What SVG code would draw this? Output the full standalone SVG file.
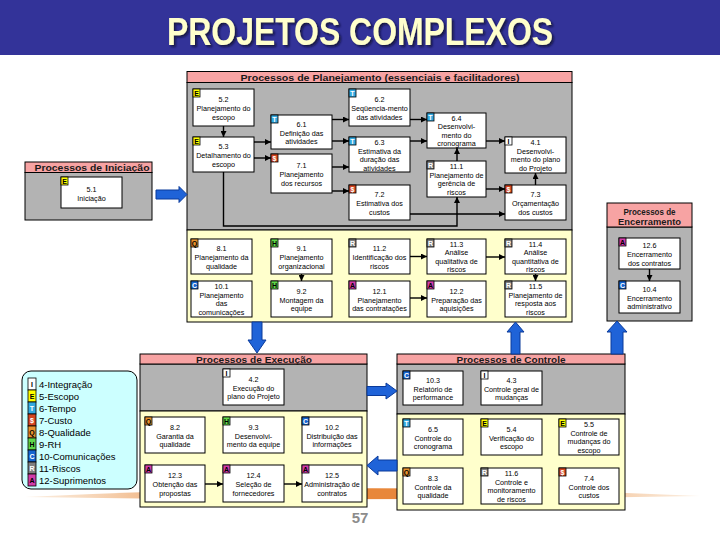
<svg xmlns="http://www.w3.org/2000/svg" width="720" height="540" viewBox="0 0 720 540">
<defs>
<style>
.box{fill:#fff;stroke:#000;stroke-width:1}
.gray{fill:#B3B3B3;stroke:#000;stroke-width:1}
.yel{fill:#FFFFCC;stroke:#000;stroke-width:1}
.hdr{fill:#F7A3A3;stroke:#000;stroke-width:1}
.ht{font-family:"Liberation Sans",Arial,sans-serif;font-weight:bold;font-size:9.5px;fill:#1a1a1a;text-anchor:middle}
.t{font-family:"Liberation Sans",Arial,sans-serif;font-size:7.2px;fill:#000;text-anchor:middle}
.bd{stroke:#000;stroke-width:0.8}
.bl{font-family:"Liberation Sans",Arial,sans-serif;font-weight:bold;font-size:7px;text-anchor:middle}
.bI{fill:#fff}.bE{fill:#FFFF00}.bT{fill:#33A9E0}.bS{fill:#D4451F}.bQ{fill:#E8922E}.bH{fill:#5FD84A}.bC{fill:#1565D0}.bR{fill:#7F7F7F}.bA{fill:#D23CA8}
.dk{fill:#000}.wh{fill:#fff}
.con{fill:none;stroke:#000;stroke-width:1.4;marker-end:url(#ah)}
.blue{fill:#1F63D8;stroke:#0A3A9A;stroke-width:1}
.lg{font-family:"Liberation Sans",Arial,sans-serif;font-size:9.5px;fill:#000}
</style>
<marker id="ah" markerWidth="6" markerHeight="6" refX="6" refY="3" orient="auto" markerUnits="userSpaceOnUse"><path d="M0,0 L6,3 L0,6 Z" fill="#000"/></marker>
<linearGradient id="og" x1="0" y1="0" x2="1" y2="0">
<stop offset="0" stop-color="#F3C89C" stop-opacity="0.3"/>
<stop offset="0.3" stop-color="#E8873A"/>
<stop offset="0.7" stop-color="#E8873A"/>
<stop offset="1" stop-color="#F3C89C" stop-opacity="0.3"/>
</linearGradient>
<filter id="sh" x="-5%" y="-20%" width="110%" height="140%">
<feDropShadow dx="2" dy="2" stdDeviation="0.8" flood-color="#0a0a30" flood-opacity="0.8"/>
</filter>
</defs>

<rect x="0" y="0" width="720" height="540" fill="#fff"/>
<!-- title band -->
<g id="title">
<rect x="0" y="0" width="720" height="55" fill="#333399"/>
<text x="360" y="45" font-family="Liberation Sans,Arial,sans-serif" font-weight="bold" font-size="39" text-anchor="middle" fill="#FFFFCC" textLength="386" lengthAdjust="spacingAndGlyphs" filter="url(#sh)">PROJETOS COMPLEXOS</text>
</g>

<!-- orange swoosh -->
<path d="M25 497 Q360 480 700 496 Q360 502 25 497 Z" fill="url(#og)"/>

<!-- process groups -->
<g id="planejamento">
<rect class="gray" x="187" y="82.5" width="385" height="147.5"/>
<rect class="yel" x="187" y="230" width="385" height="92"/>
<rect class="hdr" x="187" y="71.5" width="385" height="11"/>
<text class="ht" x="380" y="80.5" textLength="279" lengthAdjust="spacingAndGlyphs">Processos de Planejamento (essenciais e facilitadores)</text>
</g>
<g id="iniciacao">
<rect class="gray" x="25" y="172.5" width="127" height="47.5"/>
<rect class="hdr" x="25" y="162" width="127" height="10.5"/>
<text class="ht" x="92" y="170.8" textLength="115" lengthAdjust="spacingAndGlyphs">Processos de Iniciação</text>
</g>
<g id="encerramento">
<rect class="gray" x="607" y="227" width="85" height="94"/>
<rect class="hdr" x="607" y="203" width="85" height="24"/>
<text class="ht" x="649.5" y="214.5" textLength="52" lengthAdjust="spacingAndGlyphs">Processos de</text>
<text class="ht" x="649.5" y="224.5" textLength="63" lengthAdjust="spacingAndGlyphs">Encerramento</text>
</g>
<g id="execucao">
<rect class="gray" x="140" y="364" width="227" height="47"/>
<rect class="yel" x="140" y="411" width="227" height="96"/>
<rect class="hdr" x="140" y="354" width="227" height="10"/>
<text class="ht" x="254" y="362.5" textLength="116" lengthAdjust="spacingAndGlyphs">Processos de Execução</text>
</g>
<g id="controle">
<rect class="gray" x="397" y="364" width="228" height="50"/>
<rect class="yel" x="397" y="414" width="228" height="96"/>
<rect class="hdr" x="397" y="354" width="228" height="10"/>
<text class="ht" x="511" y="362.5" textLength="109" lengthAdjust="spacingAndGlyphs">Processos de Controle</text>
</g>

<!-- blue flow arrows -->
<g id="flows">
<path class="blue" d="M156 190 H179 V186.5 L187 194.5 L179 202.5 V199 H156 Z"/>
<path class="blue" d="M252 322 V340 H248 L257 353 L266 340 H262 V322 Z"/>
<path class="blue" d="M367 386.5 H386 V383 L397 391 L386 399 V395.5 H367 Z"/>
<path class="blue" d="M397 460 H378 V456 L367 465.5 L378 475 V471 H397 Z"/>
<path class="blue" d="M511 354 V332 H507 L515.5 322 L524 332 H520 V354 Z"/>
<path class="blue" d="M611 354 V332 H607 L617 321 L627 332 H623 V354 Z"/>
</g>

<!-- connectors -->
<g id="connectors">
<path class="con" d="M223.5 126 V137"/>
<path class="con" d="M254 142 H271"/>
<path class="con" d="M254 158 H271"/>
<path class="con" d="M332 119.5 H349"/>
<path class="con" d="M332 141 H349"/>
<path class="con" d="M332 167 H349"/>
<path class="con" d="M332 191 H349"/>
<path class="con" d="M410 119.5 H427"/>
<path class="con" d="M410 141 H427"/>
<path class="con" d="M486 141 H505"/>
<path class="con" d="M457 161 V148"/>
<path class="con" d="M223.5 172 V226 H457 V197"/>
<path class="con" d="M410 214 H505"/>
<path class="con" d="M486 189 H505"/>
<path class="con" d="M535.5 185 V173"/>
<path class="con" d="M301.5 274 V281"/>
<path class="con" d="M410 256.5 H427"/>
<path class="con" d="M410 298 H427"/>
<path class="con" d="M486 257 H505"/>
<path class="con" d="M535.5 274 V281"/>
<path class="con" d="M649.5 269 V281"/>
<path class="con" d="M205 484 H223"/>
<path class="con" d="M284 484 H302"/>
</g>

<!-- nodes -->
<g id="n5-2"><rect class="box" x="193" y="89" width="61" height="37"/><rect class="bd bE" x="193" y="89" width="7" height="8"/><text class="bl dk" x="196.5" y="95.5">E</text>
<text class="t" x="223.5" y="102.2">5.2</text><text class="t" x="223.5" y="111">Planejamento do</text><text class="t" x="223.5" y="119.8">escopo</text></g>
<g id="n5-3"><rect class="box" x="193" y="137" width="61" height="35"/><rect class="bd bE" x="193" y="137" width="7" height="8"/><text class="bl dk" x="196.5" y="143.5">E</text>
<text class="t" x="223.5" y="149.2">5.3</text><text class="t" x="223.5" y="158">Detalhamento do</text><text class="t" x="223.5" y="166.8">escopo</text></g>
<g id="n6-1"><rect class="box" x="271" y="115" width="61" height="34"/><rect class="bd bT" x="271" y="115" width="7" height="8"/><text class="bl wh" x="274.5" y="121.5">T</text>
<text class="t" x="301.5" y="126.7">6.1</text><text class="t" x="301.5" y="135.5">Definição das</text><text class="t" x="301.5" y="144.3">atividades</text></g>
<g id="n7-1"><rect class="box" x="271" y="154" width="61" height="39"/><rect class="bd bS" x="271" y="154" width="7" height="8"/><text class="bl wh" x="274.5" y="160.5">$</text>
<text class="t" x="301.5" y="168.2">7.1</text><text class="t" x="301.5" y="177">Planejamento</text><text class="t" x="301.5" y="185.8">dos recursos</text></g>
<g id="n6-2"><rect class="box" x="349" y="89" width="61" height="37"/><rect class="bd bT" x="349" y="89" width="7" height="8"/><text class="bl wh" x="352.5" y="95.5">T</text>
<text class="t" x="379.5" y="102.2">6.2</text><text class="t" x="379.5" y="111">Seqüencia-mento</text><text class="t" x="379.5" y="119.8">das atividades</text></g>
<g id="n6-3"><rect class="box" x="349" y="137" width="61" height="35"/><rect class="bd bT" x="349" y="137" width="7" height="8"/><text class="bl wh" x="352.5" y="143.5">T</text>
<text class="t" x="379.5" y="145">6.3</text><text class="t" x="379.5" y="153.5">Estimativa da</text><text class="t" x="379.5" y="162">duração das</text><text class="t" x="379.5" y="170.5">atividades</text></g>
<g id="n7-2"><rect class="box" x="349" y="185" width="61" height="35"/><rect class="bd bS" x="349" y="185" width="7" height="8"/><text class="bl wh" x="352.5" y="191.5">$</text>
<text class="t" x="379.5" y="197.2">7.2</text><text class="t" x="379.5" y="206">Estimativa dos</text><text class="t" x="379.5" y="214.8">custos</text></g>
<g id="n6-4"><rect class="box" x="427" y="113" width="59" height="35"/><rect class="bd bT" x="427" y="113" width="7" height="8"/><text class="bl wh" x="430.5" y="119.5">T</text>
<text class="t" x="456.5" y="120.8">6.4</text><text class="t" x="456.5" y="129.3">Desenvolvi-</text><text class="t" x="456.5" y="137.8">mento do</text><text class="t" x="456.5" y="146.2">cronograma</text></g>
<g id="n11-1"><rect class="box" x="427" y="161" width="59" height="36"/><rect class="bd bR" x="427" y="161" width="7" height="8"/><text class="bl wh" x="430.5" y="167.5">R</text>
<text class="t" x="456.5" y="169.3">11.1</text><text class="t" x="456.5" y="177.8">Planejamento de</text><text class="t" x="456.5" y="186.3">gerência de</text><text class="t" x="456.5" y="194.8">riscos</text></g>
<g id="n4-1"><rect class="box" x="505" y="137" width="61" height="36"/><rect class="bd bI" x="505" y="137" width="7" height="8"/><text class="bl dk" x="508.5" y="143.5">I</text>
<text class="t" x="535.5" y="145.3">4.1</text><text class="t" x="535.5" y="153.8">Desenvolvi-</text><text class="t" x="535.5" y="162.3">mento do plano</text><text class="t" x="535.5" y="170.8">do Projeto</text></g>
<g id="n7-3"><rect class="box" x="505" y="185" width="61" height="35"/><rect class="bd bS" x="505" y="185" width="7" height="8"/><text class="bl wh" x="508.5" y="191.5">$</text>
<text class="t" x="535.5" y="197.2">7.3</text><text class="t" x="535.5" y="206">Orçamentação</text><text class="t" x="535.5" y="214.8">dos custos</text></g>

<g id="n8-1"><rect class="box" x="191" y="239" width="61" height="35"/><rect class="bd bQ" x="191" y="239" width="7" height="8"/><text class="bl dk" x="194.5" y="245.5">Q</text>
<text class="t" x="221.5" y="251.2">8.1</text><text class="t" x="221.5" y="260">Planejamento da</text><text class="t" x="221.5" y="268.8">qualidade</text></g>
<g id="n10-1"><rect class="box" x="191" y="281" width="61" height="36"/><rect class="bd bC" x="191" y="281" width="7" height="8"/><text class="bl wh" x="194.5" y="287.5">C</text>
<text class="t" x="221.5" y="289.3">10.1</text><text class="t" x="221.5" y="297.8">Planejamento</text><text class="t" x="221.5" y="306.3">das</text><text class="t" x="221.5" y="314.8">comunicações</text></g>
<g id="n9-1"><rect class="box" x="271" y="239" width="61" height="35"/><rect class="bd bH" x="271" y="239" width="7" height="8"/><text class="bl dk" x="274.5" y="245.5">H</text>
<text class="t" x="301.5" y="251.2">9.1</text><text class="t" x="301.5" y="260">Planejamento</text><text class="t" x="301.5" y="268.8">organizacional</text></g>
<g id="n9-2"><rect class="box" x="271" y="281" width="61" height="36"/><rect class="bd bH" x="271" y="281" width="7" height="8"/><text class="bl dk" x="274.5" y="287.5">H</text>
<text class="t" x="301.5" y="293.7">9.2</text><text class="t" x="301.5" y="302.5">Montagem da</text><text class="t" x="301.5" y="311.3">equipe</text></g>
<g id="n11-2"><rect class="box" x="349" y="239" width="61" height="35"/><rect class="bd bR" x="349" y="239" width="7" height="8"/><text class="bl wh" x="352.5" y="245.5">R</text>
<text class="t" x="379.5" y="251.2">11.2</text><text class="t" x="379.5" y="260">Identificação dos</text><text class="t" x="379.5" y="268.8">riscos</text></g>
<g id="n12-1"><rect class="box" x="349" y="281" width="61" height="36"/><rect class="bd bA" x="349" y="281" width="7" height="8"/><text class="bl dk" x="352.5" y="287.5">A</text>
<text class="t" x="379.5" y="293.7">12.1</text><text class="t" x="379.5" y="302.5">Planejamento</text><text class="t" x="379.5" y="311.3">das contratações</text></g>
<g id="n11-3"><rect class="box" x="427" y="239" width="59" height="35"/><rect class="bd bR" x="427" y="239" width="7" height="8"/><text class="bl wh" x="430.5" y="245.5">R</text>
<text class="t" x="456.5" y="246.8">11.3</text><text class="t" x="456.5" y="255.3">Análise</text><text class="t" x="456.5" y="263.8">qualitativa de</text><text class="t" x="456.5" y="272.3">riscos</text></g>
<g id="n12-2"><rect class="box" x="427" y="281" width="59" height="36"/><rect class="bd bA" x="427" y="281" width="7" height="8"/><text class="bl dk" x="430.5" y="287.5">A</text>
<text class="t" x="456.5" y="293.7">12.2</text><text class="t" x="456.5" y="302.5">Preparação das</text><text class="t" x="456.5" y="311.3">aquisições</text></g>
<g id="n11-4"><rect class="box" x="505" y="239" width="61" height="35"/><rect class="bd bR" x="505" y="239" width="7" height="8"/><text class="bl wh" x="508.5" y="245.5">R</text>
<text class="t" x="535.5" y="246.8">11.4</text><text class="t" x="535.5" y="255.3">Análise</text><text class="t" x="535.5" y="263.8">quantitativa de</text><text class="t" x="535.5" y="272.3">riscos</text></g>
<g id="n11-5"><rect class="box" x="505" y="281" width="61" height="36"/><rect class="bd bR" x="505" y="281" width="7" height="8"/><text class="bl wh" x="508.5" y="287.5">R</text>
<text class="t" x="535.5" y="289.3">11.5</text><text class="t" x="535.5" y="297.8">Planejamento de</text><text class="t" x="535.5" y="306.3">resposta aos</text><text class="t" x="535.5" y="314.8">riscos</text></g>

<g id="n5-1"><rect class="box" x="61" y="177" width="61" height="31"/><rect class="bd bE" x="61" y="177" width="7" height="8"/><text class="bl dk" x="64.5" y="183.5">E</text>
<text class="t" x="91.5" y="191.5">5.1</text><text class="t" x="91.5" y="200.5">Iniciação</text></g>

<g id="n12-6"><rect class="box" x="619" y="238" width="61" height="31"/><rect class="bd bA" x="619" y="238" width="7" height="8"/><text class="bl dk" x="622.5" y="244.5">A</text>
<text class="t" x="649.5" y="248.2">12.6</text><text class="t" x="649.5" y="257">Encerramento</text><text class="t" x="649.5" y="265.8">dos contratos</text></g>
<g id="n10-4"><rect class="box" x="619" y="281" width="61" height="32"/><rect class="bd bC" x="619" y="281" width="7" height="8"/><text class="bl wh" x="622.5" y="287.5">C</text>
<text class="t" x="649.5" y="291.7">10.4</text><text class="t" x="649.5" y="300.5">Encerramento</text><text class="t" x="649.5" y="309.3">administrativo</text></g>

<g id="n4-2"><rect class="box" x="223" y="369" width="61" height="36"/><rect class="bd bI" x="223" y="369" width="7" height="8"/><text class="bl dk" x="226.5" y="375.5">I</text>
<text class="t" x="253.5" y="381.7">4.2</text><text class="t" x="253.5" y="390.5">Execução do</text><text class="t" x="253.5" y="399.3">plano do Projeto</text></g>
<g id="n8-2"><rect class="box" x="145" y="417" width="60" height="36"/><rect class="bd bQ" x="145" y="417" width="7" height="8"/><text class="bl dk" x="148.5" y="423.5">Q</text>
<text class="t" x="175" y="429.7">8.2</text><text class="t" x="175" y="438.5">Garantia da</text><text class="t" x="175" y="447.3">qualidade</text></g>
<g id="n9-3"><rect class="box" x="223" y="417" width="61" height="36"/><rect class="bd bH" x="223" y="417" width="7" height="8"/><text class="bl dk" x="226.5" y="423.5">H</text>
<text class="t" x="253.5" y="429.7">9.3</text><text class="t" x="253.5" y="438.5">Desenvolvi-</text><text class="t" x="253.5" y="447.3">mento da equipe</text></g>
<g id="n10-2"><rect class="box" x="302" y="417" width="60" height="36"/><rect class="bd bC" x="302" y="417" width="7" height="8"/><text class="bl wh" x="305.5" y="423.5">C</text>
<text class="t" x="332" y="429.7">10.2</text><text class="t" x="332" y="438.5">Distribuição das</text><text class="t" x="332" y="447.3">informações</text></g>
<g id="n12-3"><rect class="box" x="145" y="465" width="60" height="37"/><rect class="bd bA" x="145" y="465" width="7" height="8"/><text class="bl dk" x="148.5" y="471.5">A</text>
<text class="t" x="175" y="478.2">12.3</text><text class="t" x="175" y="487">Obtenção das</text><text class="t" x="175" y="495.8">propostas</text></g>
<g id="n12-4"><rect class="box" x="223" y="465" width="61" height="37"/><rect class="bd bA" x="223" y="465" width="7" height="8"/><text class="bl dk" x="226.5" y="471.5">A</text>
<text class="t" x="253.5" y="478.2">12.4</text><text class="t" x="253.5" y="487">Seleção de</text><text class="t" x="253.5" y="495.8">fornecedores</text></g>
<g id="n12-5"><rect class="box" x="302" y="465" width="60" height="37"/><rect class="bd bA" x="302" y="465" width="7" height="8"/><text class="bl dk" x="305.5" y="471.5">A</text>
<text class="t" x="332" y="478.2">12.5</text><text class="t" x="332" y="487">Administração de</text><text class="t" x="332" y="495.8">contratos</text></g>

<g id="n10-3"><rect class="box" x="403" y="371" width="60" height="34"/><rect class="bd bC" x="403" y="371" width="7" height="8"/><text class="bl wh" x="406.5" y="377.5">C</text>
<text class="t" x="433" y="382.7">10.3</text><text class="t" x="433" y="391.5">Relatório de</text><text class="t" x="433" y="400.3">performance</text></g>
<g id="n4-3"><rect class="box" x="481" y="371" width="61" height="34"/><rect class="bd bI" x="481" y="371" width="7" height="8"/><text class="bl dk" x="484.5" y="377.5">I</text>
<text class="t" x="511.5" y="382.7">4.3</text><text class="t" x="511.5" y="391.5">Controle geral de</text><text class="t" x="511.5" y="400.3">mudanças</text></g>
<g id="n6-5"><rect class="box" x="403" y="419" width="60" height="36"/><rect class="bd bT" x="403" y="419" width="7" height="8"/><text class="bl wh" x="406.5" y="425.5">T</text>
<text class="t" x="433" y="431.7">6.5</text><text class="t" x="433" y="440.5">Controle do</text><text class="t" x="433" y="449.3">cronograma</text></g>
<g id="n5-4"><rect class="box" x="481" y="419" width="61" height="36"/><rect class="bd bE" x="481" y="419" width="7" height="8"/><text class="bl dk" x="484.5" y="425.5">E</text>
<text class="t" x="511.5" y="431.7">5.4</text><text class="t" x="511.5" y="440.5">Verificação do</text><text class="t" x="511.5" y="449.3">escopo</text></g>
<g id="n5-5"><rect class="box" x="559" y="419" width="60" height="36"/><rect class="bd bE" x="559" y="419" width="7" height="8"/><text class="bl dk" x="562.5" y="425.5">E</text>
<text class="t" x="589" y="427.3">5.5</text><text class="t" x="589" y="435.8">Controle de</text><text class="t" x="589" y="444.3">mudanças do</text><text class="t" x="589" y="452.8">escopo</text></g>
<g id="n8-3"><rect class="box" x="403" y="468" width="60" height="36"/><rect class="bd bQ" x="403" y="468" width="7" height="8"/><text class="bl dk" x="406.5" y="474.5">Q</text>
<text class="t" x="433" y="480.7">8.3</text><text class="t" x="433" y="489.5">Controle da</text><text class="t" x="433" y="498.3">qualidade</text></g>
<g id="n11-6"><rect class="box" x="481" y="468" width="61" height="36"/><rect class="bd bR" x="481" y="468" width="7" height="8"/><text class="bl wh" x="484.5" y="474.5">R</text>
<text class="t" x="511.5" y="476.3">11.6</text><text class="t" x="511.5" y="484.8">Controle e</text><text class="t" x="511.5" y="493.3">monitoramento</text><text class="t" x="511.5" y="501.8">de riscos</text></g>
<g id="n7-4"><rect class="box" x="559" y="468" width="60" height="36"/><rect class="bd bS" x="559" y="468" width="7" height="8"/><text class="bl wh" x="562.5" y="474.5">$</text>
<text class="t" x="589" y="480.7">7.4</text><text class="t" x="589" y="489.5">Controle dos</text><text class="t" x="589" y="498.3">custos</text></g>

<!-- legend -->
<g id="legend">
<rect x="22" y="371" width="115" height="118" rx="9" fill="#CCFFFF" stroke="#000" stroke-width="1"/>
<rect class="bd bI" x="28" y="378" width="8" height="12"/><text class="bl dk" x="32" y="387">I</text><text class="lg" x="39" y="387.5">4-Integração</text>
<rect class="bd bE" x="28" y="390" width="8" height="12"/><text class="bl dk" x="32" y="399">E</text><text class="lg" x="39" y="399.5">5-Escopo</text>
<rect class="bd bT" x="28" y="402" width="8" height="12"/><text class="bl wh" x="32" y="411">T</text><text class="lg" x="39" y="411.5">6-Tempo</text>
<rect class="bd bS" x="28" y="414" width="8" height="12"/><text class="bl wh" x="32" y="423">$</text><text class="lg" x="39" y="423.5">7-Custo</text>
<rect class="bd bQ" x="28" y="426" width="8" height="12"/><text class="bl dk" x="32" y="435">Q</text><text class="lg" x="39" y="435.5">8-Qualidade</text>
<rect class="bd bH" x="28" y="438" width="8" height="12"/><text class="bl dk" x="32" y="447">H</text><text class="lg" x="39" y="447.5">9-RH</text>
<rect class="bd bC" x="28" y="450" width="8" height="12"/><text class="bl wh" x="32" y="459">C</text><text class="lg" x="39" y="459.5">10-Comunicações</text>
<rect class="bd bR" x="28" y="462" width="8" height="12"/><text class="bl wh" x="32" y="471">R</text><text class="lg" x="39" y="471.5">11-Riscos</text>
<rect class="bd bA" x="28" y="474" width="8" height="12"/><text class="bl dk" x="32" y="483">A</text><text class="lg" x="39" y="483.5">12-Suprimentos</text>
</g>

<text x="360" y="523" font-family="Liberation Sans,Arial,sans-serif" font-weight="bold" font-size="15" text-anchor="middle" fill="#8C8C8C">57</text>
</svg>
